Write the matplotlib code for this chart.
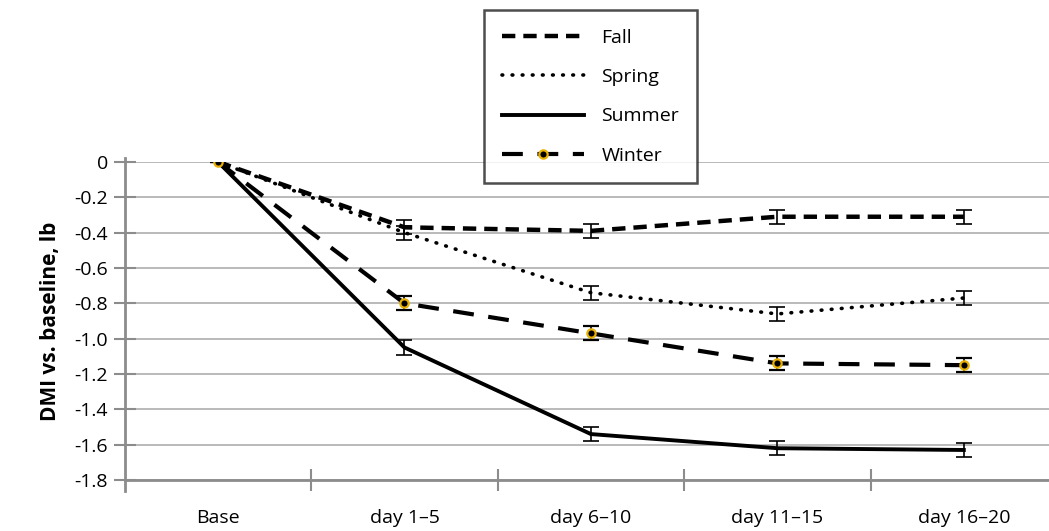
import matplotlib
matplotlib.use('Agg')
import matplotlib.pyplot as plt
from matplotlib.lines import Line2D

plt.rcParams['font.family'] = ['Open Sans', 'DejaVu Sans']

periods = ['Base', 'day 1–5', 'day 6–10', 'day 11–15', 'day 16–20']
fall = [0, -0.37, -0.39, -0.31, -0.31]
spring = [0, -0.40, -0.74, -0.86, -0.77]
summer = [0, -1.05, -1.54, -1.62, -1.63]
winter = [0, -0.80, -0.97, -1.14, -1.15]
err = [0, 0.04, 0.04, 0.04, 0.04]

fig = plt.figure(figsize=(10.49, 5.31), dpi=100)
ax = fig.add_axes([0.119, 0.096, 0.881, 0.599])
x = list(range(len(periods)))

fall_style = dict(color='black', lw=3.2, dashes=(3, 1.8))
spring_style = dict(color='black', lw=2.6, dashes=(0.2, 2.6), dash_capstyle='round')
summer_style = dict(color='black', lw=2.8)
winter_style = dict(color='black', lw=3.0, dashes=(5, 3.5), marker='o', ms=6,
                    mfc='black', mec='#e8b000', mew=1.6)

ebkw = dict(ecolor='black', elinewidth=1.2, capsize=6, capthick=1.2)
ax.errorbar(x, fall, yerr=err, **fall_style, **ebkw)
ax.errorbar(x, spring, yerr=err, **spring_style, **ebkw)
ax.errorbar(x, summer, yerr=err, **summer_style, **ebkw)
ax.errorbar(x, winter, yerr=err, **winter_style, **ebkw)

ax.set_xlim(-0.5, 4.457)
ax.set_ylim(-1.8, 0)
ax.set_yticks([0, -0.2, -0.4, -0.6, -0.8, -1.0, -1.2, -1.4, -1.6, -1.8])
ax.set_yticklabels(['0', '-0.2', '-0.4', '-0.6', '-0.8', '-1.0', '-1.2', '-1.4', '-1.6', '-1.8'])
ax.yaxis.grid(True, color='#b4b4b4', lw=1.3)
ax.set_axisbelow(True)
ax.set_xticks(x)
ax.set_xticklabels(periods)
ax.set_xticks([0.5, 1.5, 2.5, 3.5], minor=True)
ax.tick_params(axis='x', which='major', length=0, labelsize=14, pad=21)
ax.tick_params(axis='x', which='minor', direction='inout', length=16, width=1.5, color='#8c8c8c')
ax.tick_params(axis='y', direction='inout', length=16, width=1.5, color='#8c8c8c',
               labelsize=14, pad=4)
for s in ['top', 'right']:
    ax.spines[s].set_visible(False)
ax.spines['left'].set_color('#8c8c8c')
ax.spines['left'].set_linewidth(2)
ax.spines['left'].set_bounds(-1.86, 0.02)
ax.spines['bottom'].set_color('#8c8c8c')
ax.spines['bottom'].set_linewidth(2)
ax.set_ylabel('DMI vs. baseline, lb', fontsize=15, fontweight='bold', labelpad=10)

handles = [
    Line2D([], [], **fall_style),
    Line2D([], [], **spring_style),
    Line2D([], [], **summer_style),
    Line2D([], [], **winter_style),
]
leg = fig.legend(handles, ['Fall', 'Spring', 'Summer', 'Winter'],
                 loc='upper left', bbox_to_anchor=(0.461, 0.981), fontsize=14,
                 frameon=True, fancybox=False, handlelength=4.2, handletextpad=0.9,
                 labelspacing=1.1, borderpad=0.95, borderaxespad=0, markerscale=1)
leg.get_frame().set_edgecolor('#222222')
leg.get_frame().set_linewidth(1.8)

fig.savefig('out.png', dpi=100)
